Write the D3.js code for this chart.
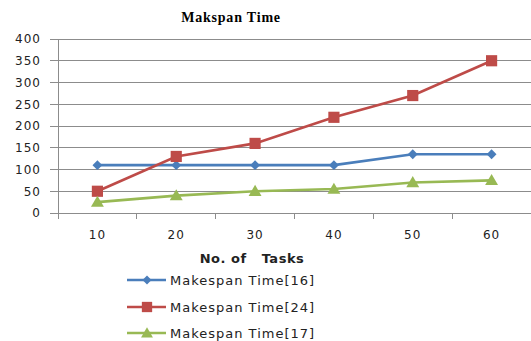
<!DOCTYPE html>
<html><head><meta charset="utf-8">
<script src="https://cdn.jsdelivr.net/npm/d3@7"></script>
<style>body{margin:0;background:#fff;} svg{display:block;}</style>
</head><body>
<svg id="c" width="531" height="341"></svg>
<script>
const categories = ["10","20","30","40","50","60"];
const seriesNames = ["Makespan Time[16]","Makespan Time[24]","Makespan Time[17]"];
const s16 = [110,110,110,110,135,135];
const s24 = [50,130,160,220,270,350];
const s17 = [25,40,50,55,70,75];
const yTicks = [0,50,100,150,200,250,300,350,400];
const colors = ["#4A7EBB","#BE4B48","#98B954"];
const symbols = [d3.symbolDiamond2, d3.symbolSquare, d3.symbolTriangle];
const symSizes = [62, 125, 72];
const series = [s16, s24, s17];

(function(){
const svg = d3.select("#c");
const mLeft = 58, mRight = 531, mTop = 39, mBottom = 213;
const x = d3.scaleBand().domain(categories).range([mLeft, mRight]);
const y = d3.scaleLinear().domain([0,400]).range([mBottom, mTop]);

// gridlines
svg.append("g").selectAll("line").data(yTicks).join("line")
  .attr("x1", mLeft - 8).attr("x2", mRight)
  .attr("y1", d => y(d)).attr("y2", d => y(d))
  .attr("stroke", "#8c8c8c").attr("stroke-width", 1).attr("shape-rendering","crispEdges");

// y axis
const ya = svg.append("g").attr("transform", `translate(${mLeft},0)`)
  .call(d3.axisLeft(y).tickValues(yTicks).tickSize(0).tickPadding(17));
ya.select(".domain").attr("stroke", "#8c8c8c");
ya.selectAll("text").attr("font-family","DejaVu Sans").attr("font-size","12px").attr("fill","#222")
  .attr("letter-spacing","1px");

// x axis
const xa = svg.append("g").attr("transform", `translate(0,${mBottom})`)
  .call(d3.axisBottom(x).tickSize(0).tickPadding(17));
xa.select(".domain").attr("stroke", "#8c8c8c");
xa.selectAll("text").attr("font-family","DejaVu Sans").attr("font-size","12px").attr("fill","#222")
  .attr("letter-spacing","1px");
// tick marks at band boundaries
svg.append("g").selectAll("line").data(categories).join("line")
  .attr("x1", d => x(d)).attr("x2", d => x(d))
  .attr("y1", mBottom).attr("y2", mBottom + 6)
  .attr("stroke", "#8c8c8c").attr("shape-rendering","crispEdges");

const cx = d => x(d) + x.bandwidth()/2;
const line = d3.line().x((d,i) => cx(categories[i])).y(d => y(d));

series.forEach((s, k) => {
  svg.append("path").datum(s).attr("d", line)
    .attr("fill","none").attr("stroke", colors[k]).attr("stroke-width", 2.6);
  svg.append("g").selectAll("path").data(s).join("path")
    .attr("transform", (d,i) => `translate(${cx(categories[i])},${y(d) + (k===2 ? 1 : 0)})`)
    .attr("d", d3.symbol().type(symbols[k]).size(symSizes[k]))
    .attr("fill", colors[k]);
});

// title
svg.append("text").attr("x", 231).attr("y", 22).attr("text-anchor","middle")
  .attr("font-family","Liberation Serif").attr("font-weight","bold").attr("font-size","14px")
  .attr("letter-spacing","0.8px")
  .attr("fill","#000").text("Makspan Time");

// x axis title
svg.append("text").attr("x", 252).attr("y", 263).attr("text-anchor","middle")
  .attr("font-family","DejaVu Sans").attr("font-weight","bold").attr("font-size","13px")
  .attr("letter-spacing","0.5px")
  .attr("fill","#222").style("white-space","pre").text("No. of   Tasks");

// legend
const legY = [280, 307, 333];
seriesNames.forEach((name, k) => {
  const g = svg.append("g").attr("transform", `translate(0,${legY[k]})`);
  g.append("line").attr("x1",127).attr("x2",166).attr("y1",0).attr("y2",0)
    .attr("stroke", colors[k]).attr("stroke-width", 2.6);
  g.append("path").attr("transform", `translate(147,${k===2?1:0})`)
    .attr("d", d3.symbol().type(symbols[k]).size(symSizes[k]*0.85)).attr("fill", colors[k]);
  g.append("text").attr("x", 170).attr("y", 5)
    .attr("font-family","DejaVu Sans").attr("font-size","13px").attr("fill","#222")
    .attr("letter-spacing","1px").text(name);
});
})();
</script>
</body></html>
